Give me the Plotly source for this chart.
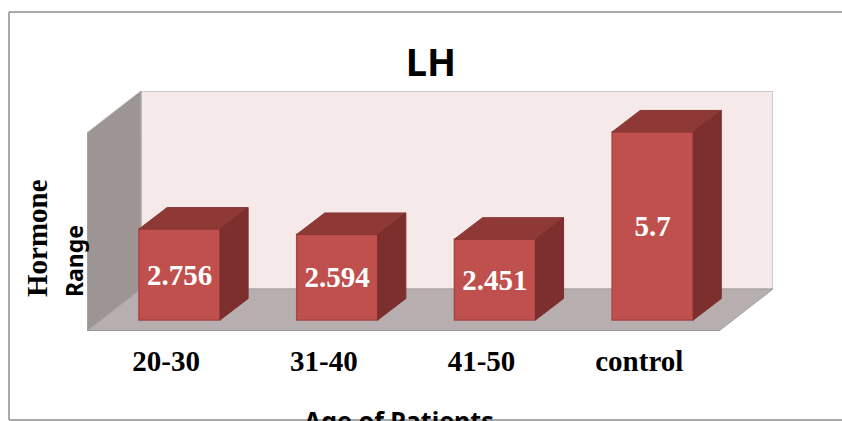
import plotly.graph_objects as go

# --- Data ---
categories = ['20-30', '31-40', '41-50', 'control']
values = [2.756, 2.594, 2.451, 5.7]
value_labels = ['2.756', '2.594', '2.451', '5.7']

# --- 3D look (all in axis units) ---
BAR_WIDTH = 0.514
DEPTH_X = 0.178
DEPTH_Y = 0.65
FLOOR_Y = -0.333
WALL_TOP = 6.94
WALL_LEFT = -0.5866
WALL_RIGHT = 3.763
WALL_DX = 0.3425
WALL_DY = 1.27
LABEL_SHIFT = 0.085

SERIF = 'Liberation Serif'
SANS = 'Noto Sans'

W, H = 842, 421
M_L, M_R, M_T, M_B = 87, 69, 91, 90


def px_x(p):
    return (p - M_L) / (W - M_L - M_R)


def px_y(p):
    return 1 - (p - M_T) / (H - M_T - M_B)


def poly(pts):
    return 'M ' + ' L '.join(f'{x} {y}' for x, y in pts) + ' Z'


positions = list(range(len(categories)))
fig = go.Figure()

# front faces
fig.add_trace(go.Bar(x=positions, y=values, width=BAR_WIDTH, text=value_labels,
                     textposition='inside', insidetextanchor='middle', textangle=0,
                     insidetextfont=dict(family=SERIF, size=29, color='white', weight='bold'),
                     marker=dict(color='#C0504D', line=dict(color='#A84644', width=1.5)),
                     hoverinfo='skip'))

# top and side faces
for pos, val in zip(positions, values):
    left, right = pos - BAR_WIDTH / 2, pos + BAR_WIDTH / 2
    top = [left, left + DEPTH_X, right + DEPTH_X, right, left]
    top_y = [val, val + DEPTH_Y, val + DEPTH_Y, val, val]
    side = [right, right + DEPTH_X, right + DEPTH_X, right, right]
    side_y = [0, DEPTH_Y, val + DEPTH_Y, val, 0]
    fig.add_trace(go.Scatter(x=top, y=top_y, mode='lines', fill='toself', fillcolor='#8F3937',
                             line=dict(color='#8A3533', width=1), hoverinfo='skip'))
    fig.add_trace(go.Scatter(x=side, y=side_y, mode='lines', fill='toself', fillcolor='#7D2F2D',
                             line=dict(color='#7A2E2C', width=1), hoverinfo='skip'))

# walls and floor
back_x = WALL_LEFT + WALL_DX
back_y = FLOOR_Y + WALL_DY
shapes = [
    dict(type='rect', x0=back_x, x1=WALL_RIGHT, y0=back_y, y1=WALL_TOP, fillcolor='#F5E9E9',
         line=dict(color='#C4C0C0', width=1.5), layer='below'),
    dict(type='path', path=poly([(WALL_LEFT, FLOOR_Y), (back_x, back_y), (back_x, WALL_TOP),
                                 (WALL_LEFT, WALL_TOP - WALL_DY)]),
         fillcolor='#9C9594', line=dict(color='#B0ACAC', width=1), layer='below'),
    dict(type='path', path=poly([(WALL_LEFT, FLOOR_Y), (WALL_RIGHT - WALL_DX, FLOOR_Y),
                                 (WALL_RIGHT, back_y), (back_x, back_y)]),
         fillcolor='#B7AFAF', line=dict(color='#A5A1A1', width=1), layer='below'),
    dict(type='line', x0=WALL_LEFT, x1=WALL_RIGHT - WALL_DX, y0=FLOOR_Y, y1=FLOOR_Y,
         line=dict(color='#989898', width=2), layer='below'),
]

# outer frame, open on the right
frame = dict(type='line', xref='paper', yref='paper', line=dict(color='#8C8C8C', width=1.5))
shapes += [
    dict(frame, x0=px_x(9), x1=px_x(9), y0=px_y(12), y1=px_y(420)),
    dict(frame, x0=px_x(9), x1=px_x(W), y0=px_y(12), y1=px_y(12)),
    dict(frame, x0=px_x(9), x1=px_x(W), y0=px_y(420), y1=px_y(420)),
]

annotations = [
    dict(text='<b>Hormone</b>', xref='paper', yref='paper', x=px_x(37), y=px_y(238), showarrow=False,
         xanchor='center', yanchor='middle', textangle=-90,
         font=dict(family=SERIF, size=29, color='black')),
    dict(text='<b>Range</b>', xref='paper', yref='paper', x=px_x(74), y=px_y(261), showarrow=False,
         xanchor='center', yanchor='middle', textangle=-90,
         font=dict(family=SANS, size=23, color='black')),
    # the axis title runs off the bottom of the picture
    dict(text='<b>Age of Patients</b>', xref='paper', yref='paper', x=px_x(399), y=px_y(401), showarrow=False,
         xanchor='center', yanchor='top', font=dict(family=SANS, size=25, color='black')),
]

fig.update_layout(
    width=W, height=H,
    margin=dict(l=M_L, r=M_R, t=M_T, b=M_B),
    paper_bgcolor='white', plot_bgcolor='white',
    showlegend=False,
    title=dict(text='<b>LH</b>', x=431 / W, xanchor='center', y=1 - 63 / H, yanchor='middle',
               font=dict(family=SANS, size=38, color='black')),
    shapes=shapes, annotations=annotations,
    xaxis=dict(range=[WALL_LEFT, WALL_RIGHT], showgrid=False, zeroline=False, showline=False,
               automargin=False,
               tickvals=[p - LABEL_SHIFT for p in positions], ticktext=[f'<b>{c}</b>' for c in categories],
               tickfont=dict(family=SERIF, size=29, color='black'), ticks='', ticklabelstandoff=10),
    yaxis=dict(range=[FLOOR_Y, WALL_TOP], visible=False, automargin=False),
)

fig.write_html('out.html', config=dict(displayModeBar=False),
               post_script="document.body.style.margin='0';")
